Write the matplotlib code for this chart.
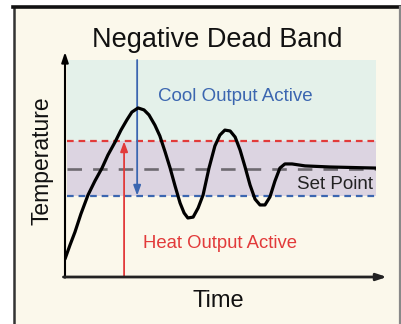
import matplotlib
matplotlib.use("Agg")
import matplotlib.pyplot as plt
from matplotlib.patches import Rectangle

plt.rcParams['font.family'] = ['Liberation Sans', 'DejaVu Sans']

# process response: time (arbitrary units) vs temperature
time = [0.00, 0.16, 0.32, 0.51, 0.74, 0.96, 1.19, 1.38, 1.61, 1.80, 1.99, 2.15,
        2.35, 2.54, 2.70, 2.89, 3.05, 3.22, 3.38, 3.54, 3.70, 3.83, 3.95, 4.12,
        4.28, 4.44, 4.63, 4.82, 4.98, 5.14, 5.31, 5.47, 5.63, 5.79, 5.95, 6.11,
        6.27, 6.43, 6.59, 6.75, 6.91, 7.07, 7.30, 7.72, 8.52, 10.0]
temperature = [0.83, 1.47, 2.07, 2.90, 3.78, 4.42, 5.02, 5.62, 6.22, 6.77, 7.24, 7.60,
               7.79, 7.70, 7.47, 7.00, 6.50, 5.76, 5.02, 4.19, 3.41, 2.95, 2.72, 2.76,
               3.18, 3.78, 5.02, 6.04, 6.54, 6.77, 6.73, 6.45, 5.85, 5.07, 4.24, 3.59,
               3.32, 3.32, 3.69, 4.42, 5.02, 5.21, 5.21, 5.12, 5.07, 5.02]

set_point = 5.0
heat_on_below = 6.25   # heat output active under this
cool_on_above = 3.75   # cool output active above this
top_limit = 10.0
heat_arrow_t = 1.90
cool_arrow_t = 2.32

CREAM = "#fbf8eb"
TEAL = "#e4f1ea"
PURPLE = "#dcd4e1"
RED = "#e23a3a"
BLUE = "#3b66b0"

fig = plt.figure(figsize=(4.01, 3.24), dpi=100)
fig.patch.set_facecolor("white")

# panel background and border
W, H = 401, 324
panel = Rectangle((14 / W, -0.05), (399 - 14) / W, (324 - 7) / H + 0.05,
                  transform=fig.transFigure, facecolor=CREAM, edgecolor="none", zorder=-5)
fig.patches.append(panel)
fig.add_artist(plt.Line2D([14 / W, 14 / W], [0, (324 - 7) / H], color="#333333", lw=1.8,
                          transform=fig.transFigure, zorder=-4))
fig.add_artist(plt.Line2D([13 / W, 400 / W], [(324 - 7) / H] * 2, color="#111111", lw=2.6,
                          transform=fig.transFigure, zorder=-4))
fig.add_artist(plt.Line2D([399.5 / W] * 2, [0, (324 - 7) / H], color="#888888", lw=1.6,
                          transform=fig.transFigure, zorder=-4))

ax = fig.add_axes([65 / W, (324 - 277) / H, 311 / W, 217 / H])
ax.set_xlim(0, 10)
ax.set_ylim(0, 10)
ax.axis("off")

# zones
ax.axhspan(heat_on_below, top_limit, xmin=0.006, xmax=1, color=TEAL, lw=0, zorder=1)
ax.axhspan(cool_on_above, heat_on_below, xmin=0.006, xmax=1, color=PURPLE, lw=0, zorder=1)

ax.plot([0.06, 10], [heat_on_below] * 2, color=RED, lw=1.6, dashes=(3, 2.2), zorder=2)
ax.plot([0.06, 10], [cool_on_above] * 2, color=BLUE, lw=1.6, dashes=(3, 2.2), zorder=2)
ax.plot([0.06, 10], [set_point] * 2, color="#6e6a70", lw=1.9, dashes=(5.5, 4.2), zorder=2)

# output arrows
ax.annotate("", xy=(cool_arrow_t, cool_on_above), xytext=(cool_arrow_t, top_limit),
            arrowprops=dict(arrowstyle="-|>,head_length=0.6,head_width=0.22",
                            color=BLUE, lw=1.3, shrinkA=0, shrinkB=0), zorder=3)
ax.annotate("", xy=(heat_arrow_t, heat_on_below), xytext=(heat_arrow_t, 0),
            arrowprops=dict(arrowstyle="-|>,head_length=0.6,head_width=0.22",
                            color=RED, lw=1.3, shrinkA=0, shrinkB=0), zorder=3)

ax.plot(time, temperature, color="black", lw=2.3, solid_joinstyle="round",
        solid_capstyle="round", zorder=4)

# axes arrows
ax.annotate("", xy=(0, 10.37), xytext=(0, -0.03),
            arrowprops=dict(arrowstyle="-|>,head_length=0.6,head_width=0.2",
                            color="black", lw=1.5, shrinkA=0, shrinkB=0),
            annotation_clip=False, zorder=5)
ax.annotate("", xy=(10.35, 0), xytext=(-0.05, 0),
            arrowprops=dict(arrowstyle="-|>,head_length=0.6,head_width=0.2",
                            color="#222222", lw=2.0, shrinkA=0, shrinkB=0),
            annotation_clip=False, zorder=5)

ax.text(5.47, 8.11, "Cool Output Active", color=BLUE, fontsize=13.5,
        ha="center", va="baseline", zorder=6)
ax.text(4.97, 1.34, "Heat Output Active", color=RED, fontsize=13.3,
        ha="center", va="baseline", zorder=6)
ax.text(9.9, 4.06, "Set Point", color="#222222", fontsize=13.5,
        ha="right", va="baseline", zorder=6)

fig.text(217.5 / W, (324 - 47) / H, "Negative Dead Band", fontsize=19.5,
         ha="center", va="baseline", color="#111111")
fig.text(218 / W, (324 - 307) / H, "Time", fontsize=17,
         ha="center", va="baseline", color="#111111")
fig.text(42 / W, (324 - 161) / H, "Temperature", fontsize=16.5, rotation=90,
         ha="center", va="center", color="#111111")

fig.savefig("out.png", dpi=100, facecolor=fig.get_facecolor())
